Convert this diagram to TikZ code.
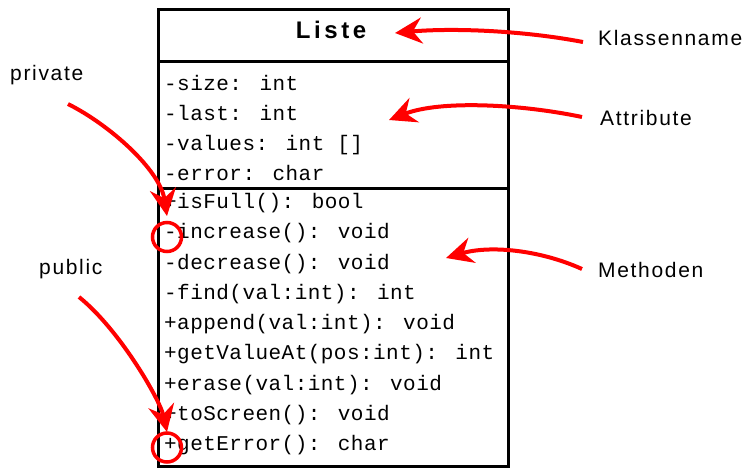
\documentclass[tikz,border=0pt]{standalone}
\usepackage{fontspec}
\setmainfont{Liberation Sans}
\newfontfamily\lblfont{Liberation Sans}[LetterSpace=8]
\newfontfamily\ttlfont{Liberation Sans}[LetterSpace=15]
\newfontfamily\codefont{Liberation Mono}[LetterSpace=2.2]
\usetikzlibrary{arrows.meta}
\begin{document}
\begin{tikzpicture}[x=1pt,y=-1pt,
  code/.style={anchor=base west, inner sep=0pt, font=\codefont\fontsize{21}{25}\selectfont},
  lbl/.style={anchor=base west, inner sep=0pt, font=\lblfont\fontsize{21}{25}\selectfont},
  callout/.style={draw=red, line width=4pt, -{Stealth[length=27pt,width=26pt,inset=9pt,fill=red]}},
  ring/.style={circle, draw=red, line width=3.5pt, minimum size=29pt, inner sep=0pt},
  classline/.style={line width=3pt}]
\useasboundingbox (0,0) rectangle (745,467);
% class box
\node[draw, line width=3pt, anchor=north west, minimum width=350pt, minimum height=457pt, inner sep=0pt] (cls) at (157,8) {};
\coordinate (d1l) at (157,61); \coordinate (d1r) at (507,61);
\coordinate (d2l) at (157,188); \coordinate (d2r) at (507,188);
\draw[classline] (d1l) -- (d1r);
\draw[classline] (d2l) -- (d2r);
\node[anchor=base, inner sep=0pt, font=\ttlfont\bfseries\fontsize{24}{28}\selectfont] (title) at (331,38.3) {Liste};
% attributes
\node[code] (a1) at (164,90.7) {-size: int};
\node[code] (a2) at (164,120.7) {-last: int};
\node[code] (a3) at (164,150.7) {-values: int []};
\node[code] (a4) at (164,180.7) {-error: char};
% methods
\node[code] (m1) at (164,208.5) {+isFull(): bool};
\node[code] (m2) at (164,238.8) {-increase(): void};
\node[code] (m3) at (164,269.1) {-decrease(): void};
\node[code] (m4) at (164,299.3) {-find(val:int): int};
\node[code] (m5) at (164,329.6) {+append(val:int): void};
\node[code] (m6) at (164,359.9) {+getValueAt(pos:int): int};
\node[code] (m7) at (164,390.2) {+erase(val:int): void};
\node[code] (m8) at (164,420.5) {+toScreen(): void};
\node[code] (m9) at (164,450.7) {+getError(): char};
% labels
\node[lbl] (kl) at (598,45.7) {Klassenname};
\node[lbl] (at) at (600,125) {Attribute};
\node[lbl] (me) at (598,277.7) {Methoden};
\node[lbl] (pr) at (10,80.7) {private};
\node[lbl] (pu) at (39,274.3) {public};
% rings
\node[ring] (r1) at (167,237) {};
\node[ring] (r2) at (167,447.5) {};
% arrow ends
\coordinate (klS) at (583,42);   \coordinate (klE) at (395,33);
\coordinate (atS) at (582,117);  \coordinate (atE) at (389,120);
\coordinate (meS) at (582,269);  \coordinate (meE) at (446,258);
\coordinate (prS) at (68,104);   \coordinate (prE) at (167,216);
\coordinate (puS) at (79,297);   \coordinate (puE) at (167,432);
\draw[callout] (klS) .. controls (520,30) and (450,28) .. (klE);
\draw[callout] (atS) .. controls (520,104) and (440,100) .. (atE);
\draw[callout] (meS) .. controls (540,250) and (490,245) .. (meE);
\draw[callout] (prS) .. controls (110,125) and (160,170) .. (prE);
\draw[callout] (puS) .. controls (120,330) and (160,400) .. (puE);
\end{tikzpicture}
\end{document}
